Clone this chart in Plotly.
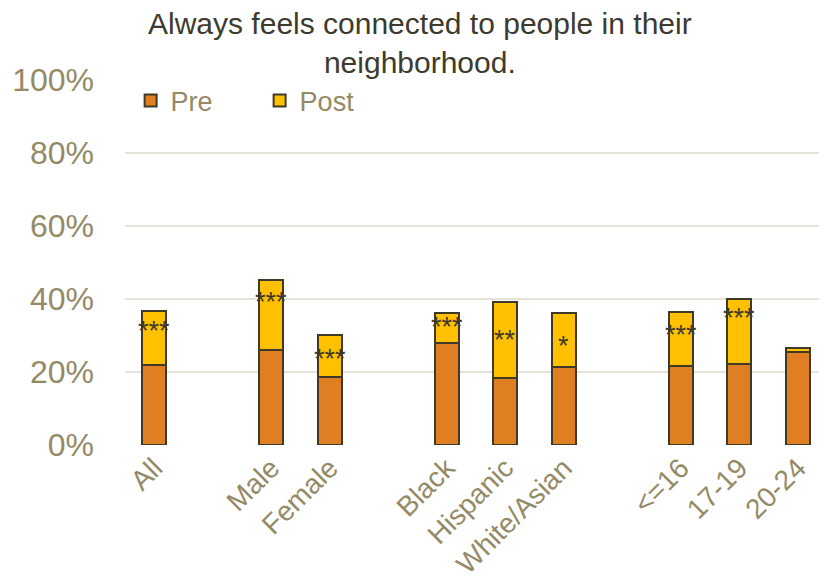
import plotly.graph_objects as go

categories = ["All", " ", "Male", "Female", "  ", "Black", "Hispanic", "White/Asian", "   ", "<=16", "17-19", "20-24"]
pre = [21.8, None, 26.0, 18.5, None, 28.0, 18.4, 21.5, None, 21.7, 22.2, 25.6]
post = [14.8, None, 19.2, 11.6, None, 8.3, 20.9, 14.8, None, 14.8, 17.8, 0.9]
stars = ["***", "", "***", "***", "", "***", "**", "*", "", "***", "***", ""]
star_y = [32.3, None, 40.4, 24.7, None, 33.4, 29.9, 28.3, None, 31.2, 35.9, None]
y_ticks = [0, 20, 40, 60, 80, 100]
y_labels = ["0%", "20%", "40%", "60%", "80%", "100%"]

PRE_COLOR = "#E07F22"
POST_COLOR = "#FFC000"
EDGE = "#3F3A28"
TICK_COLOR = "#948A66"
GRID = "#E6E2DA"
FONT = "Liberation Sans, Arial, sans-serif"

fig = go.Figure()
fig.add_trace(go.Bar(x=categories, y=pre, name="Pre",
                     marker=dict(color=PRE_COLOR, line=dict(color=EDGE, width=2))))
fig.add_trace(go.Bar(x=categories, y=post, name="Post",
                     marker=dict(color=POST_COLOR, line=dict(color=EDGE, width=2))))

for c, s, yv in zip(categories, stars, star_y):
    if s and yv is not None:
        fig.add_annotation(x=c, y=yv, text=s, showarrow=False,
                           font=dict(family=FONT, size=27, color=EDGE),
                           yanchor="middle", yshift=-4)

fig.update_layout(
    width=827, height=581,
    barmode="stack", bargap=0.59,
    plot_bgcolor="white", paper_bgcolor="white",
    margin=dict(l=117, r=8, t=72, b=144),
    title=dict(text="Always feels connected to people in their<br>neighborhood.",
               x=0.498, xanchor="center", y=0.956, yanchor="top",
               font=dict(family=FONT, size=30, color="#3D3A2E")),
    legend=dict(orientation="h", x=0.008, y=1.01, xanchor="left", yanchor="top",
                font=dict(family=FONT, size=27, color=TICK_COLOR),
                bgcolor="rgba(0,0,0,0)", entrywidth=84, traceorder="normal"),
    showlegend=True,
)
fig.update_yaxes(range=[0, 100], tickvals=y_ticks, ticktext=y_labels,
                 tickfont=dict(family=FONT, size=32, color=TICK_COLOR),
                 showgrid=True, gridcolor=GRID, gridwidth=2, automargin=False,
                 zeroline=False, showline=False, ticks="", ticklabelstandoff=30)
fig.update_xaxes(tickangle=-45, tickfont=dict(family=FONT, size=28, color=TICK_COLOR),
                 showline=False, ticks="", automargin=False,
                 categoryorder="array", categoryarray=categories)

fig.write_html("out.html")
